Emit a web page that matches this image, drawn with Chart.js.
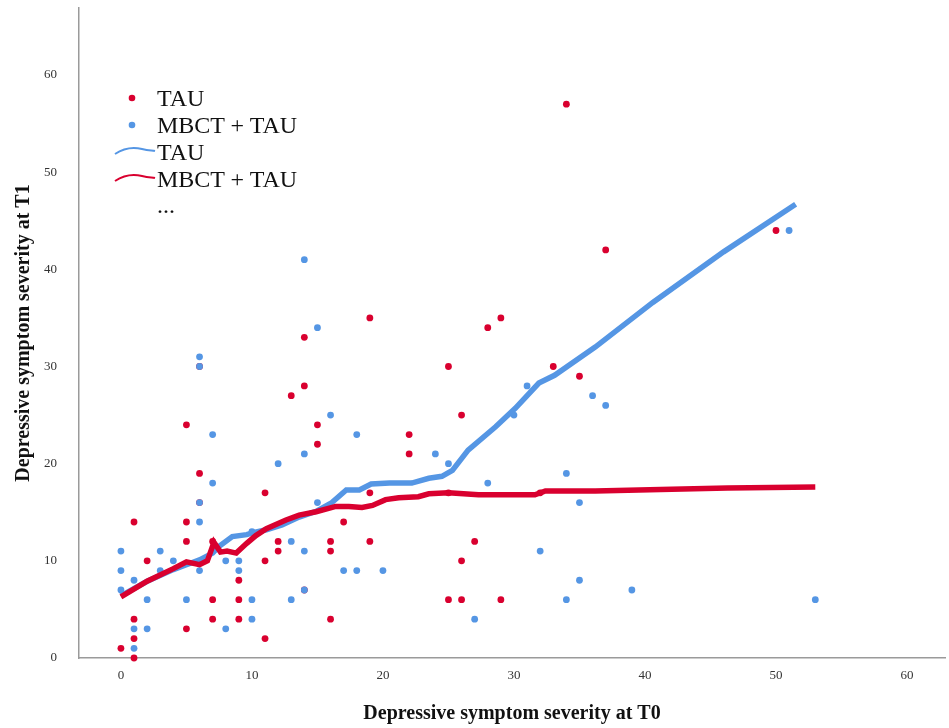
<!DOCTYPE html>
<html>
<head>
<meta charset="utf-8">
<script src="https://cdn.jsdelivr.net/npm/chart.js@4.4.0/dist/chart.umd.min.js"></script>
<style>
    body { margin: 0; background: #fff; }
    #wrap { position: relative; width: 949px; height: 728px; }
    #legend { position: absolute; left: 0; top: 0; font-family: "Liberation Serif", serif; font-size: 24px; color: #111; }
    #legend .txt { position: absolute; left: 157px; line-height: 24px; white-space: nowrap; }
    #legend svg { position: absolute; left: 0; top: 0; }
</style>
</head>
<body>
<div id="wrap">
    <canvas id="myChart" width="949" height="728"></canvas>
    <div id="legend">
        <svg width="200" height="230">
            <circle cx="132" cy="98" r="3.3" fill="#d9002f"/>
            <circle cx="132" cy="125" r="3.3" fill="#5596e4"/>
            <path d="M115 154 C124 148, 134 147, 142 149 S152 150, 155 151" stroke="#5596e4" stroke-width="2" fill="none"/>
            <path d="M115 181 C124 175, 134 174, 142 176 S152 177, 155 178" stroke="#d9002f" stroke-width="2" fill="none"/>
        </svg>
        <div class="txt" style="top:86px">TAU</div>
        <div class="txt" style="top:113px">MBCT + TAU</div>
        <div class="txt" style="top:140px">TAU</div>
        <div class="txt" style="top:167px">MBCT + TAU</div>
        <div class="txt" style="top:193px">...</div>
    </div>
</div>
<script>

// scatter points, TAU group (red)
const tauX = [0, 1, 1, 1, 1, 2, 5, 5, 5, 5, 6, 6, 6, 7, 7, 7, 9, 9, 9, 11, 11, 11, 12, 12, 13, 14, 14, 14, 15, 15, 16, 16, 16, 17, 19, 19, 19, 22, 22, 25, 25, 25, 26, 26, 26, 27, 28, 29, 29, 32, 33, 34, 35, 37, 50];
const tauY = [1, 0, 2, 4, 14, 10, 3, 12, 14, 24, 19, 30, 16, 4, 6, 12, 4, 6, 8, 2, 10, 17, 11, 12, 27, 7, 28, 33, 22, 24, 4, 11, 12, 14, 12, 17, 35, 21, 23, 6, 17, 30, 6, 10, 25, 12, 34, 6, 35, 17, 30, 57, 29, 42, 44];

// scatter points, MBCT + TAU group (blue)
const mbctX = [0, 0, 0, 1, 1, 1, 2, 2, 3, 3, 4, 5, 6, 6, 6, 6, 6, 7, 7, 8, 8, 9, 9, 10, 10, 10, 12, 13, 13, 14, 14, 14, 14, 15, 15, 16, 17, 18, 18, 20, 24, 25, 27, 28, 30, 31, 32, 34, 34, 35, 35, 36, 37, 39, 51, 53];
const mbctY = [7, 9, 11, 1, 3, 8, 3, 6, 9, 11, 10, 6, 9, 14, 16, 30, 31, 18, 23, 3, 10, 9, 10, 4, 6, 13, 20, 6, 12, 7, 11, 21, 41, 16, 34, 25, 9, 9, 23, 9, 21, 20, 4, 18, 25, 28, 11, 6, 19, 8, 16, 27, 26, 7, 44, 6];

// fit lines (legend: blue = TAU, red = MBCT + TAU)
const tauFitX = [0, 2, 4, 5, 6, 7, 7.5, 8.5, 9.6, 10.1, 11.1, 12.3, 13.6, 14.9, 16.1, 17.2, 18.2, 19.1, 20.5, 22.2, 23.5, 24.5, 25.3, 26.5, 28.6, 30.1, 31.9, 33.1, 36.2, 40.6, 46, 51.5];
const tauFitY = [6.4, 7.9, 9.1, 9.6, 10.1, 10.8, 11.5, 12.5, 12.7, 12.9, 13.2, 13.7, 14.5, 15.1, 16.0, 17.3, 17.3, 17.9, 18.0, 18.0, 18.5, 18.7, 19.3, 21.4, 23.8, 25.7, 28.3, 29.1, 32.0, 36.6, 41.8, 46.7];

const mbctFitX = [0, 2, 4, 5, 6, 6.6, 7.1, 7.6, 8.1, 8.8, 9.6, 10.3, 11.1, 12.6, 13.6, 14.9, 16.4, 17.4, 18.4, 19.2, 20.2, 21.2, 22.7, 23.5, 25, 27.3, 29.8, 31.6, 32.4, 36.2, 41.2, 46.3, 53];
const mbctFitY = [6.3, 7.9, 9.2, 9.9, 9.6, 10.0, 11.9, 10.9, 11.0, 10.8, 11.8, 12.6, 13.3, 14.2, 14.7, 15.05, 15.6, 15.6, 15.5, 15.7, 16.3, 16.5, 16.6, 16.9, 17.0, 16.8, 16.8, 16.8, 17.2, 17.2, 17.35, 17.5, 17.6];

const xTicks = [0, 10, 20, 30, 40, 50, 60];
const yTicks = [0, 10, 20, 30, 40, 50, 60];

const red = '#d9002f';
const blue = '#5596e4';

const toPoints = (xs, ys) => xs.map((x, i) => ({ x: x, y: ys[i] }));

const displayChart = () => {

    const data = {
        datasets: [
            {
                type: 'line',
                label: 'MBCT + TAU fit',
                data: toPoints(mbctFitX, mbctFitY),
                borderColor: red,
                borderWidth: 5.5,
                pointRadius: 0,
                tension: 0,
                order: 0
            },
            {
                type: 'line',
                label: 'TAU fit',
                data: toPoints(tauFitX, tauFitY),
                borderColor: blue,
                borderWidth: 5.5,
                pointRadius: 0,
                tension: 0,
                order: 1
            },
            {
                label: 'MBCT + TAU',
                data: toPoints(mbctX, mbctY),
                backgroundColor: blue,
                borderWidth: 0,
                pointRadius: 3.4,
                order: 2
            },
            {
                label: 'TAU',
                data: toPoints(tauX, tauY),
                backgroundColor: red,
                borderWidth: 0,
                pointRadius: 3.4,
                order: 3
            }
        ]
    };//data

    const tickFont = { family: 'Liberation Serif', size: 13 };
    const titleFont = { family: 'Liberation Serif', size: 20, weight: 'bold' };

    const config = {
        type: 'scatter',
        data: data,
        options: {
            responsive: false,
            animation: false,
            devicePixelRatio: 1,
            clip: false,
            layout: { padding: { top: 8, right: 1, left: 0, bottom: 0 } },
            plugins: {
                legend: { display: false },
                tooltip: { enabled: false }
            },
            scales: {
                x: {
                    type: 'linear',
                    min: -3.2,
                    max: 62.9,
                    afterBuildTicks: (axis) => { axis.ticks = xTicks.map(v => ({ value: v })); },
                    afterFit: (axis) => {
                        axis.height = 70;
                        axis.paddingLeft = 0;
                        axis.paddingRight = 0;
                    },
                    grid: { display: false, drawTicks: false },
                    border: { display: true, color: '#9a9a9a', width: 1.5 },
                    ticks: { font: tickFont, color: '#333', padding: 10, maxRotation: 0 },
                    title: {
                        display: true,
                        text: 'Depressive symptom severity at T0',
                        font: titleFont,
                        color: '#111',
                        padding: { top: 0, bottom: 2 }
                    }
                },
                y: {
                    type: 'linear',
                    min: 0,
                    max: 66.9,
                    afterBuildTicks: (axis) => { axis.ticks = yTicks.map(v => ({ value: v })); },
                    afterFit: (axis) => {
                        axis.width = 79;
                        axis.paddingTop = 0;
                        axis.paddingBottom = 0;
                    },
                    grid: { display: false, drawTicks: false },
                    border: { display: true, color: '#9a9a9a', width: 1.5 },
                    ticks: { font: tickFont, color: '#333', padding: 22 },
                    title: {
                        display: true,
                        text: 'Depressive symptom severity at T1',
                        font: titleFont,
                        color: '#111',
                        padding: { top: 12, bottom: 0 }
                    }
                }
            }
        }//options
    };//config

    const myChart = new Chart(
        document.getElementById('myChart'),
        config
    );
}

displayChart();
</script>
</body>
</html>
